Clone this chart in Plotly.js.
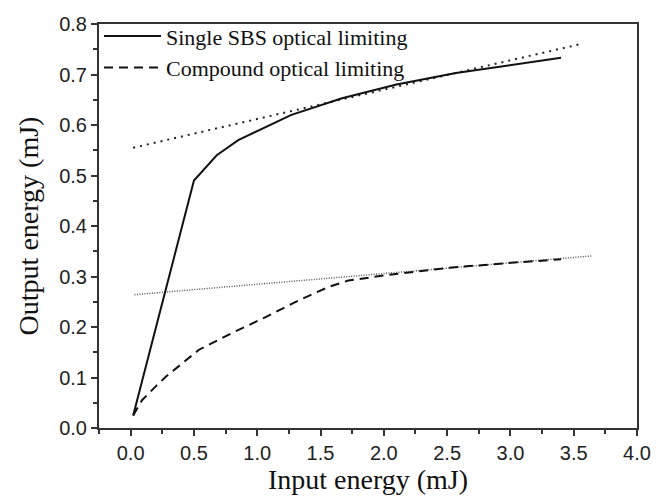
<!DOCTYPE html>
<html>
<head>
<meta charset="utf-8">
<script src="https://cdn.plot.ly/plotly-3.0.1.min.js"></script>
<style>html,body{margin:0;padding:0;background:#fff;}#chart{width:656px;height:500px;}</style>
</head>
<body>
<div id="chart"></div>
<script>
// Single SBS optical limiting (solid)
const singleX = [0.02, 0.5, 0.68, 0.85, 1.27, 1.67, 2.1, 2.57, 3.4];
const singleY = [0.025, 0.49, 0.54, 0.57, 0.62, 0.653, 0.68, 0.703, 0.733];
// Compound optical limiting (dashed)
const compX = [0.02, 0.09, 0.2, 0.28, 0.54, 0.8, 1.07, 1.33, 1.57, 1.72, 2.0, 2.5, 3.0, 3.4];
const compY = [0.025, 0.055, 0.083, 0.102, 0.155, 0.188, 0.22, 0.253, 0.28, 0.292, 0.302, 0.317, 0.327, 0.334];
// Asymptote fit lines (dotted)
const fitTopX = [0.02, 3.55];
const fitTopY = [0.555, 0.76];
const fitLowX = [0.03, 3.65];
const fitLowY = [0.264, 0.341];

const names = ['Single SBS optical limiting', 'Compound optical limiting'];

const serif = 'Liberation Serif, Times New Roman, serif';
const sans = 'Liberation Sans, Arial, sans-serif';

const traces = [
  {x: fitTopX, y: fitTopY, mode: 'lines', line: {color: '#222', width: 2, dash: '2px,5px'}, showlegend: false, hoverinfo: 'skip'},
  {x: fitLowX, y: fitLowY, mode: 'lines', line: {color: '#555', width: 1.5, dash: '1px,1.5px'}, showlegend: false, hoverinfo: 'skip'},
  {x: singleX, y: singleY, mode: 'lines', name: names[0], line: {color: '#111', width: 2}},
  {x: compX, y: compY, mode: 'lines', name: names[1], line: {color: '#111', width: 2, dash: '9px,6px'}}
];

const axisCommon = {
  showline: true, mirror: true, linecolor: '#333', linewidth: 2,
  showgrid: false, zeroline: false,
  ticks: 'outside', ticklen: 6, tickwidth: 2, tickcolor: '#333',
  tickfont: {family: sans, size: 20, color: '#222'},
  tickformat: '.1f'
};

const layout = {
  width: 656, height: 500,
  margin: {l: 99, r: 19, t: 24, b: 72},
  paper_bgcolor: '#fff', plot_bgcolor: '#fff',
  xaxis: Object.assign({}, axisCommon, {
    range: [-0.25, 4.0], dtick: 0.5, tick0: 0,
    minor: {dtick: 0.25, tick0: 0, ticklen: 4, tickwidth: 2, tickcolor: '#333', ticks: 'outside'},
    title: {text: 'Input energy (mJ)', font: {family: serif, size: 28, color: '#111'}, standoff: 4}
  }),
  yaxis: Object.assign({}, axisCommon, {
    range: [0, 0.8], dtick: 0.1, tick0: 0,
    minor: {dtick: 0.05, tick0: 0, ticklen: 4, tickwidth: 2, tickcolor: '#333', ticks: 'outside'},
    title: {text: 'Output energy (mJ)', font: {family: serif, size: 28, color: '#111'}, standoff: 12}
  }),
  legend: {
    x: 0.0, y: 1.022, xanchor: 'left', yanchor: 'top',
    bgcolor: 'rgba(0,0,0,0)', borderwidth: 0,
    font: {family: serif, size: 22, color: '#111'},
    itemwidth: 57, tracegroupgap: 0
  },
  showlegend: true
};

Plotly.newPlot('chart', traces, layout, {displayModeBar: false, staticPlot: true});
</script>
</body>
</html>
